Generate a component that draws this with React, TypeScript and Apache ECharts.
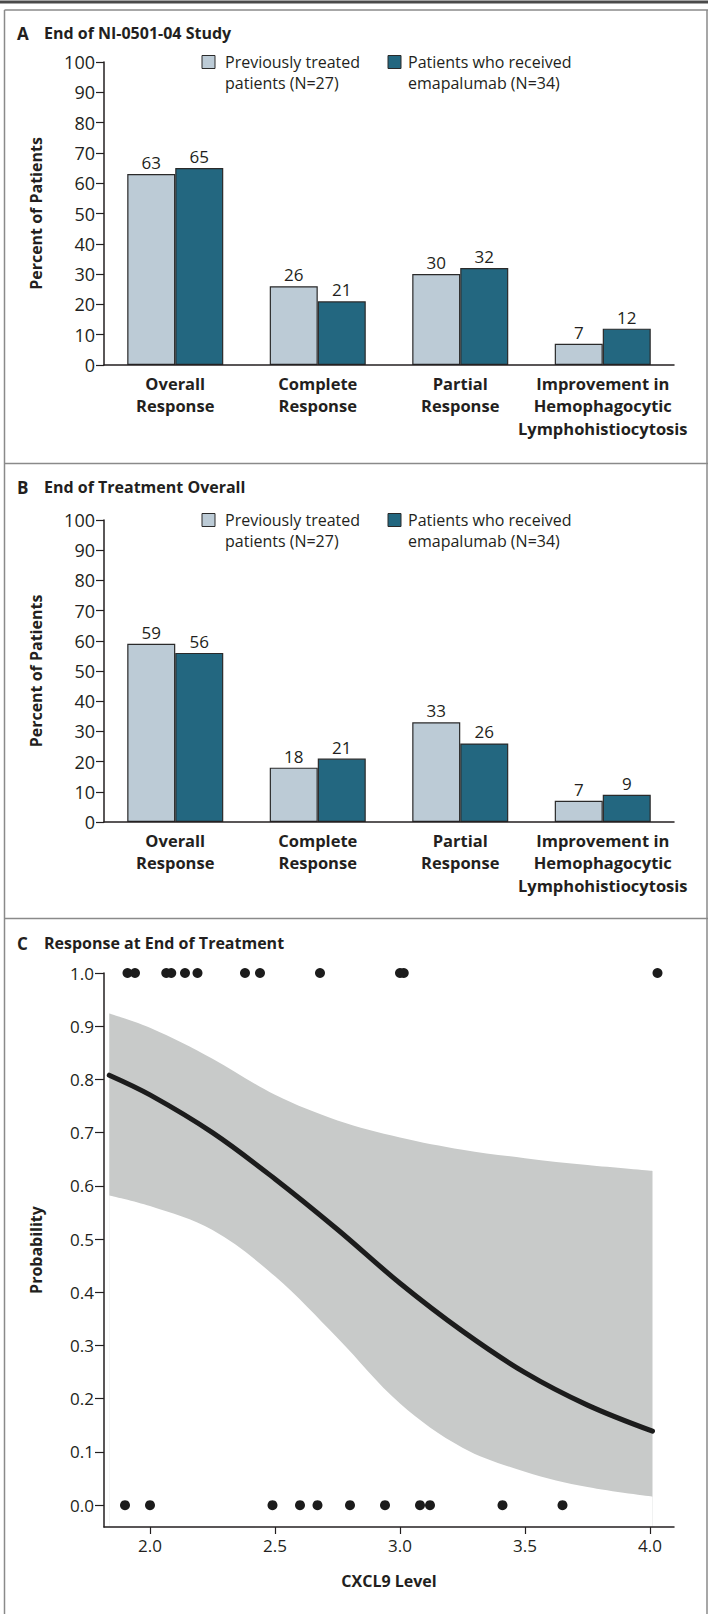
import React, { useEffect, useRef } from "react";
import * as echarts from "echarts";

// ---------- Data ----------
const categories = [
  "Overall\nResponse",
  "Complete\nResponse",
  "Partial\nResponse",
  "Improvement in\nHemophagocytic\nLymphohistiocytosis",
];
const seriesNames = ["Previously treated patients (N=27)", "Patients who received emapalumab (N=34)"];
const legendLabels = ["Previously treated\npatients (N=27)", "Patients who received\nemapalumab (N=34)"];

const studyPrevious = [63, 26, 30, 7];
const studyEmapalumab = [65, 21, 32, 12];
const treatmentPrevious = [59, 18, 33, 7];
const treatmentEmapalumab = [56, 21, 26, 9];

const cxcl9Responders = [1.91, 1.94, 2.065, 2.085, 2.14, 2.19, 2.38, 2.44, 2.68, 3.0, 3.015, 4.03];
const cxcl9NonResponders = [1.9, 2.0, 2.49, 2.6, 2.67, 2.8, 2.94, 3.08, 3.12, 3.41, 3.65];

const curveX = [1.837, 2.0, 2.25, 2.5, 2.75, 3.0, 3.25, 3.5, 3.75, 4.01];
const curveProbability = [0.808, 0.771, 0.7, 0.613, 0.518, 0.417, 0.327, 0.249, 0.188, 0.139];
const bandUpper = [0.924, 0.897, 0.839, 0.771, 0.723, 0.691, 0.668, 0.652, 0.639, 0.628];
const bandLower = [0.582, 0.562, 0.517, 0.43, 0.314, 0.191, 0.108, 0.063, 0.034, 0.016];

const probabilityTicks = [0, 0.1, 0.2, 0.3, 0.4, 0.5, 0.6, 0.7, 0.8, 0.9, 1.0];
const cxcl9Ticks = [2.0, 2.5, 3.0, 3.5, 4.0];

// ---------- Styles ----------
const FONT = "'Open Sans', sans-serif";
const INK = "#231f20";
const LIGHT = "#bccbd6";
const DARK = "#236780";
const BAND = "#c8cac9";
const FRAME = "#8a8a8a";

function barYAxis(gridIndex: number) {
  return {
    type: "value",
    gridIndex,
    min: 0,
    max: 100,
    interval: 10,
    name: "Percent of Patients",
    nameLocation: "middle",
    nameRotate: 90,
    nameGap: 60,
    nameTextStyle: { fontFamily: FONT, fontWeight: "bold", fontSize: 16, color: INK },
    axisLine: { show: true, lineStyle: { color: INK, width: 1.5 } },
    axisTick: { show: true, length: 8, lineStyle: { color: INK, width: 1.2 } },
    axisLabel: { margin: 9, fontFamily: FONT, fontSize: 18, color: INK },
    splitLine: { show: false },
    z: 10,
  };
}

function barXAxis(gridIndex: number) {
  return {
    type: "category",
    gridIndex,
    data: categories,
    axisLine: { show: true, lineStyle: { color: INK, width: 1.5 } },
    axisTick: { show: false },
    axisLabel: {
      margin: 7,
      fontFamily: FONT,
      fontWeight: "bold",
      fontSize: 16.5,
      lineHeight: 22.5,
      color: INK,
      interval: 0,
    },
    z: 10,
  };
}

function barSeries(name: string, data: number[], color: string, idx: number) {
  return {
    name,
    type: "bar",
    xAxisIndex: idx,
    yAxisIndex: idx,
    data,
    barWidth: 48,
    barGap: "0%",
    itemStyle: { color, borderColor: "#2a2a2a", borderWidth: 1.2 },
    label: {
      show: true,
      position: "top",
      distance: 3,
      fontFamily: FONT,
      fontSize: 17,
      color: INK,
    },
  };
}

function panelTitle(letter: string, text: string, y: number) {
  return [
    {
      type: "text",
      x: 17,
      y,
      style: { text: letter, font: `bold 17px ${FONT}`, fill: INK, verticalAlign: "middle" },
    },
    {
      type: "text",
      x: 44,
      y,
      style: { text, font: `bold 16px ${FONT}`, fill: INK, verticalAlign: "middle" },
    },
  ];
}

function legendGraphic(y: number) {
  const items: any[] = [];
  const boxX = [202, 388];
  const textX = [225, 408];
  const colors = [LIGHT, DARK];
  for (let i = 0; i < 2; i++) {
    items.push({
      type: "rect",
      shape: { x: boxX[i], y: y - 6.5, width: 13, height: 13 },
      style: { fill: colors[i], stroke: "#2a2a2a", lineWidth: 1 },
    });
    items.push({
      type: "text",
      x: textX[i],
      y: y - 10.5,
      style: {
        text: legendLabels[i],
        font: `16px ${FONT}`,
        fill: INK,
        verticalAlign: "top",
        lineHeight: 21,
      },
    });
  }
  return items;
}

function frameLines() {
  const l = (x1: number, y1: number, x2: number, y2: number, w: number, c: string) => ({
    type: "line",
    shape: { x1, y1, x2, y2 },
    style: { stroke: c, lineWidth: w },
    silent: true,
  });
  return [
    l(0, 2, 708, 2, 3, "#4a4a4a"),
    l(4.5, 10, 708, 10, 1.5, FRAME),
    l(4.5, 10, 4.5, 1614, 1.5, FRAME),
    l(707, 10, 707, 1614, 1.5, FRAME),
    l(4.5, 463.5, 708, 463.5, 1.5, FRAME),
    l(4.5, 918.5, 708, 918.5, 1.5, FRAME),
  ];
}

export default function App() {
  const ref = useRef<HTMLDivElement>(null);

  useEffect(() => {
    document.body.style.margin = "0";
    if (!ref.current) return;
    const chart = echarts.init(ref.current, undefined, { renderer: "svg" });

    const pair = (xs: number[], ys: number[]) => xs.map((x, i) => [x, ys[i]]);

    const option: any = {
      animation: false,
      backgroundColor: "#ffffff",
      textStyle: { fontFamily: FONT },
      grid: [
        { left: 104, width: 570, top: 62, height: 303 },
        { left: 104, width: 570, top: 520, height: 302 },
        { left: 104, width: 570, top: 973, height: 554 },
      ],
      xAxis: [
        barXAxis(0),
        barXAxis(1),
        {
          type: "value",
          gridIndex: 2,
          min: 1.816,
          max: 4.096,
          name: "CXCL9 Level",
          nameLocation: "middle",
          nameGap: 46,
          nameTextStyle: { fontFamily: FONT, fontWeight: "bold", fontSize: 16, color: INK },
          axisLine: { show: true, onZero: false, lineStyle: { color: INK, width: 1.5 } },
          axisTick: { show: true, length: 7, customValues: cxcl9Ticks, lineStyle: { color: INK, width: 1.2 } },
          axisLabel: {
            margin: 10,
            fontFamily: FONT,
            fontSize: 17,
            color: INK,
            customValues: cxcl9Ticks,
            formatter: (v: number) => v.toFixed(1),
          },
          splitLine: { show: false },
          z: 10,
        },
      ],
      yAxis: [
        barYAxis(0),
        barYAxis(1),
        {
          type: "value",
          gridIndex: 2,
          min: -0.041,
          max: 1.0,
          name: "Probability",
          nameLocation: "middle",
          nameRotate: 90,
          nameGap: 60,
          nameTextStyle: { fontFamily: FONT, fontWeight: "bold", fontSize: 16, color: INK },
          axisLine: { show: true, onZero: false, lineStyle: { color: INK, width: 1.5 } },
          axisTick: { show: true, length: 9, customValues: probabilityTicks, lineStyle: { color: INK, width: 1.2 } },
          axisLabel: {
            margin: 10,
            fontFamily: FONT,
            fontSize: 17,
            color: INK,
            customValues: probabilityTicks,
            formatter: (v: number) => v.toFixed(1),
          },
          splitLine: { show: false },
          z: 10,
        },
      ],
      series: [
        barSeries(seriesNames[0], studyPrevious, LIGHT, 0),
        barSeries(seriesNames[1], studyEmapalumab, DARK, 0),
        barSeries(seriesNames[0], treatmentPrevious, LIGHT, 1),
        barSeries(seriesNames[1], treatmentEmapalumab, DARK, 1),
        {
          name: "95% CI upper",
          type: "line",
          xAxisIndex: 2,
          yAxisIndex: 2,
          data: pair(curveX, bandUpper),
          smooth: 0.35,
          symbol: "none",
          lineStyle: { width: 0, opacity: 0 },
          areaStyle: { color: BAND, opacity: 1, origin: "start" },
          silent: true,
          z: 1,
        },
        {
          name: "95% CI lower",
          type: "line",
          xAxisIndex: 2,
          yAxisIndex: 2,
          data: pair(curveX, bandLower),
          smooth: 0.35,
          symbol: "none",
          lineStyle: { width: 0, opacity: 0 },
          areaStyle: { color: "#ffffff", opacity: 1, origin: "start" },
          silent: true,
          z: 2,
        },
        {
          name: "Fitted probability",
          type: "line",
          xAxisIndex: 2,
          yAxisIndex: 2,
          data: pair(curveX, curveProbability),
          smooth: 0.35,
          symbol: "none",
          lineStyle: { color: "#1c1c1c", width: 5, cap: "round" },
          z: 3,
        },
        {
          name: "Response",
          type: "scatter",
          xAxisIndex: 2,
          yAxisIndex: 2,
          data: cxcl9Responders.map((x) => [x, 1]),
          symbolSize: 10,
          itemStyle: { color: "#1c1c1c", opacity: 1 },
          z: 4,
        },
        {
          name: "No response",
          type: "scatter",
          xAxisIndex: 2,
          yAxisIndex: 2,
          data: cxcl9NonResponders.map((x) => [x, 0]),
          symbolSize: 10,
          itemStyle: { color: "#1c1c1c", opacity: 1 },
          z: 4,
        },
      ],
      graphic: [
        ...frameLines(),
        ...panelTitle("A", "End of NI-0501-04 Study", 33),
        ...panelTitle("B", "End of Treatment Overall", 487),
        ...panelTitle("C", "Response at End of Treatment", 943),
        ...legendGraphic(62),
        ...legendGraphic(520),
      ],
    };

    chart.setOption(option);
    return () => chart.dispose();
  }, []);

  return <div ref={ref} style={{ width: 708, height: 1614 }} />;
}
